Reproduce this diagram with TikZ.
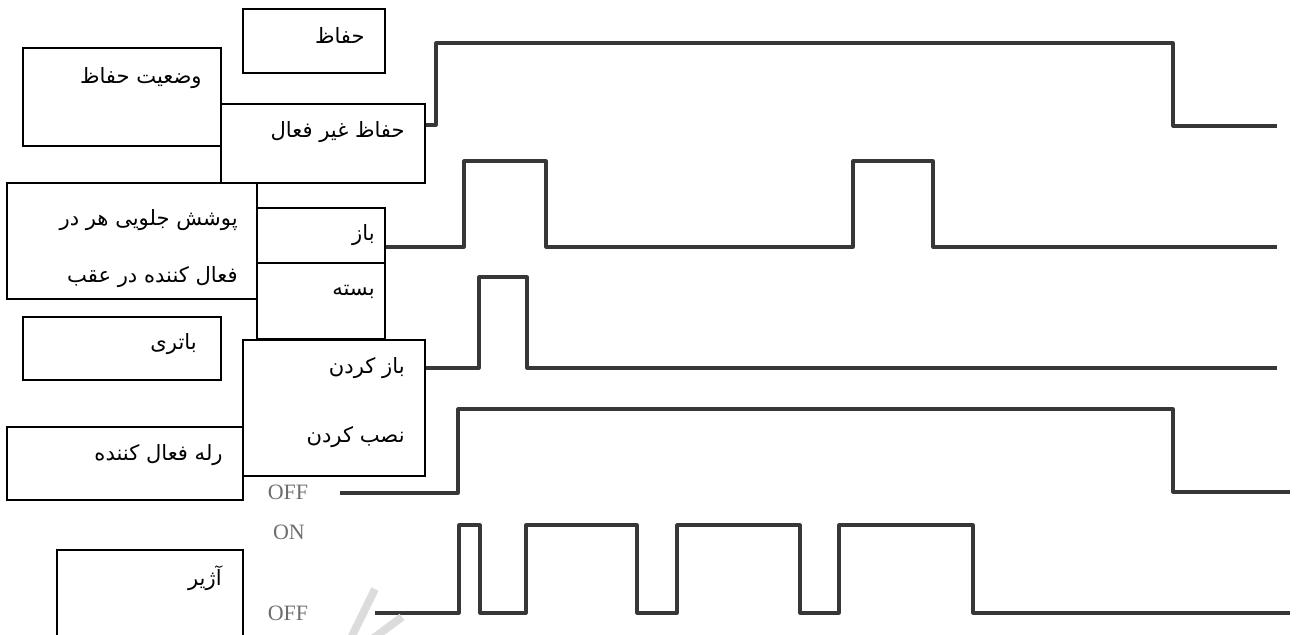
\documentclass[tikz,border=0pt]{standalone}
\usepackage{fontspec}
\setmainfont{Liberation Serif}
\newfontfamily\arabicfont[Script=Arabic]{DejaVu Sans}
\TeXXeTstate=1
\usetikzlibrary{fit}
\definecolor{wavegray}{RGB}{55,55,55}
\definecolor{levelgray}{RGB}{110,110,110}
\definecolor{wmarkgray}{RGB}{220,220,220}

\begin{document}
\begin{tikzpicture}[x=0.02cm, y=-0.02cm,
  lbox/.style={draw=black, line width=1.1pt, fill=white, inner sep=0pt},
  ptext/.style={anchor=east, inner sep=0pt, font=\arabicfont\fontsize{12}{14}\selectfont},
  wave/.style={draw=wavegray, line width=1.8pt, line join=round},
  level/.style={inner sep=0pt, font=\fontsize{12.5}{14}\selectfont, text=levelgray},
  wmark/.style={draw=wmarkgray, line width=4.5pt}
]
  \useasboundingbox (0,0) rectangle (1299,635);
  \clip (0,0) rectangle (1299,635);

  % Waveforms
  \draw[wave] (400,125) -- (436,125) -- (436,43) -- (1173,43) -- (1173,126) -- (1277,126);
  \draw[wave] (380,247) -- (464,247) -- (464,161) -- (546,161) -- (546,247)
    -- (853,247) -- (853,161) -- (933,161) -- (933,247) -- (1277,247);
  \draw[wave] (400,368) -- (479,368) -- (479,277) -- (527,277) -- (527,368) -- (1277,368);
  \draw[wave] (340,493) -- (458,493) -- (458,409) -- (1173,409) -- (1173,492) -- (1290,492);
  \draw[wave] (375,613) -- (459,613) -- (459,525) -- (480,525) -- (480,613)
    -- (526,613) -- (526,525) -- (637,525) -- (637,613)
    -- (677,613) -- (677,525) -- (800,525) -- (800,613)
    -- (839,613) -- (839,525) -- (973,525) -- (973,613) -- (1290,613);

  % Watermark stroke
  \draw[wmark] (350,640) -- (375,589);
  \draw[wmark] (371,640) -- (402,617);

  % Level labels
  \node[level] (off1) at (288,492) {OFF};
  \node[level] (on1)  at (289,532) {ON};
  \node[level] (off2) at (288,613) {OFF};

  % Label boxes
  \node[lbox, fit={(243,9) (385,73)}]    (guard) {};
  \node[lbox, fit={(23,48) (221,146)}]   (state) {};
  \node[lbox, fit={(221,104) (425,183)}] (inactive) {};
  \node[lbox, fit={(7,183) (257,299)}]   (cover) {};
  \node[lbox, fit={(257,208) (385,263)}] (open) {};
  \node[lbox, fit={(257,263) (385,339)}] (closed) {};
  \node[lbox, fit={(23,317) (221,380)}]  (battery) {};
  \node[lbox, fit={(243,340) (425,476)}] (install) {};
  \node[lbox, fit={(7,427) (243,500)}]   (relay) {};
  \node[lbox, fit={(57,550) (243,660)}]  (siren) {};

  % Box texts
  \node[ptext] (guardtxt)    at (365,35)  {\beginR حفاظ\endR};
  \node[ptext] (statetxt)    at (202,78)  {\beginR وضعیت حفاظ\endR};
  \node[ptext] (inactivetxt) at (405,132) {\beginR حفاظ غیر فعال\endR};
  \node[ptext] (covertxta)   at (238,220) {\beginR پوشش جلویی هر در\endR};
  \node[ptext] (covertxtb)   at (238,277) {\beginR فعال کننده در عقب\endR};
  \node[ptext] (opentxt)     at (375,235) {\beginR باز\endR};
  \node[ptext] (closedtxt)   at (375,292) {\beginR بسته\endR};
  \node[ptext] (batterytxt)  at (197,344) {\beginR باتری\endR};
  \node[ptext] (removetxt)   at (405,368) {\beginR باز کردن\endR};
  \node[ptext] (installtxt)  at (405,437) {\beginR نصب کردن\endR};
  \node[ptext] (relaytxt)    at (223,455) {\beginR رله فعال کننده\endR};
  \node[ptext] (sirentxt)    at (222,578) {\beginR آژیر\endR};
\end{tikzpicture}
\end{document}
